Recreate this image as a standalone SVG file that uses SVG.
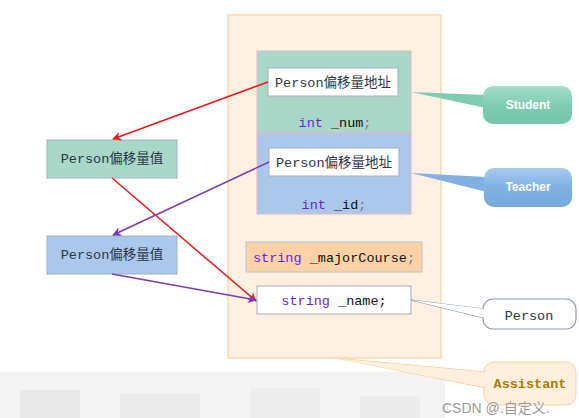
<svg xmlns="http://www.w3.org/2000/svg" width="579" height="418" viewBox="0 0 579 418">
<style>
.mono{font-family:"Liberation Mono","Noto Sans CJK SC",monospace;font-size:13.5px;fill:#2A3646}
.kw{fill:#6A1FE6}
.blk{fill:#111}
.semi{fill:#8A6A9A}
.call{font-family:"Liberation Sans","Noto Sans",sans-serif;font-size:12px;font-weight:bold;fill:#fff}
.wb{fill:#fff;stroke:#A2B0C2;stroke-width:1}
</style>
<defs>
<marker id="ar" viewBox="0 0 10 10" refX="9" refY="5" markerWidth="9" markerHeight="9" orient="auto-start-reverse" markerUnits="userSpaceOnUse"><path d="M0,0 L10,5 L0,10 L3,5 Z" fill="#F01818"/></marker>
<marker id="ap" viewBox="0 0 10 10" refX="9" refY="5" markerWidth="9" markerHeight="9" orient="auto-start-reverse" markerUnits="userSpaceOnUse"><path d="M0,0 L10,5 L0,10 L3,5 Z" fill="#7A3AB0"/></marker>
<linearGradient id="gs" x1="0" y1="0" x2="0" y2="1"><stop offset="0" stop-color="#A6DEC9"/><stop offset="0.5" stop-color="#7ECDB3"/><stop offset="1" stop-color="#74C5AB"/></linearGradient>
<linearGradient id="gt" x1="0" y1="0" x2="0" y2="1"><stop offset="0" stop-color="#A8CBEE"/><stop offset="0.5" stop-color="#80B1E2"/><stop offset="1" stop-color="#75A8DC"/></linearGradient>
</defs>
<rect width="579" height="418" fill="#fff"/>
<g opacity="0.45">
<rect x="0" y="372" width="445" height="46" fill="#E6E6E6"/>
<rect x="20" y="390" width="60" height="28" fill="#CDCDCD"/>
<rect x="120" y="394" width="80" height="24" fill="#D2D2D2"/>
<rect x="250" y="388" width="70" height="30" fill="#D8D8D8"/>
<rect x="360" y="396" width="60" height="22" fill="#D4D4D4"/>
</g>
<g id="assistant-container">
<rect x="228" y="15" width="213" height="343" fill="#FFF0E2" stroke="#FDD7AE" stroke-width="1.5"/>
</g>
<g id="student-block">
<rect x="257" y="51" width="154" height="82" fill="#A9D8C8" stroke="#E6B5C5"/>
<rect x="268" y="68" width="130" height="28" class="wb"/>
<text x="333" y="87" class="mono" text-anchor="middle">Person偏移量地址</text>
<text x="335" y="127" class="mono" text-anchor="middle"><tspan class="kw">int</tspan><tspan class="blk"> _num</tspan><tspan class="semi">;</tspan></text>
</g>
<g id="teacher-block">
<rect x="257" y="133" width="154" height="81" fill="#ABC8EA" stroke="#E6B5C5"/>
<rect x="269" y="148" width="130" height="28" class="wb"/>
<text x="334" y="167" class="mono" text-anchor="middle">Person偏移量地址</text>
<text x="334" y="209" class="mono" text-anchor="middle"><tspan class="kw">int</tspan><tspan class="blk"> _id</tspan><tspan class="semi">;</tspan></text>
</g>
<g id="major-course">
<rect x="246" y="242" width="176" height="30" fill="#FFD1A6" stroke="#A6CAD6"/>
<text x="334" y="262" class="mono" text-anchor="middle"><tspan class="kw">string</tspan><tspan class="blk"> _majorCourse</tspan><tspan class="semi">;</tspan></text>
</g>
<g id="name-field">
<rect x="257" y="286" width="154" height="28" class="wb"/>
<text x="334" y="305" class="mono" text-anchor="middle"><tspan class="kw">string</tspan><tspan class="blk"> _name;</tspan></text>
</g>
<g id="offset-green">
<rect x="47" y="140" width="130" height="38" fill="#A9D8C8" stroke="#9DB2C6"/>
<text x="112" y="163" class="mono" text-anchor="middle">Person偏移量值</text>
</g>
<g id="offset-blue">
<rect x="47" y="236" width="130" height="38" fill="#ABC8EA" stroke="#9DB2C6"/>
<text x="112" y="259" class="mono" text-anchor="middle">Person偏移量值</text>
</g>
<g id="callout-student">
<path d="M411,92 L486,95 L486,108 Z" fill="#7ECDB3"/>
<rect x="483" y="86" width="89" height="38" rx="10" fill="url(#gs)"/>
<text x="528" y="109" class="call" text-anchor="middle">Student</text>
</g>
<g id="callout-teacher">
<path d="M411,173 L487,177 L487,192 Z" fill="#80B1E2"/>
<rect x="484" y="168" width="88" height="39" rx="10" fill="url(#gt)"/>
<text x="528" y="191" class="call" text-anchor="middle">Teacher</text>
</g>
<g id="callout-person">
<path d="M411,300 L484,309 M411,300 L484,318" fill="none" stroke="#8C9AB2" stroke-width="1.2"/>
<rect x="483" y="299" width="93" height="30" rx="10" fill="#fff" stroke="#8C9AB2" stroke-width="1.2"/>
<path d="M411,300 L485,309 L485,318 Z" fill="#fff"/>
<text x="529" y="320" class="mono" text-anchor="middle">Person</text>
</g>
<g id="callout-assistant">
<path d="M335,358 L486,372 L486,388 Z" fill="#FFF0DE" stroke="#FDD0A2"/>
<rect x="484" y="362" width="92" height="43" rx="10" fill="#FFF0DE" stroke="#FDD0A2"/>
<path d="M336,358.5 L487,372.5 L487,387.5 Z" fill="#FFF0DE"/>
<text x="530" y="388" class="mono" text-anchor="middle" style="fill:#B07800;font-weight:bold">Assistant</text>
</g>
<g id="connectors" fill="none" stroke-width="1.5">
<line x1="268" y1="82" x2="113" y2="139" stroke="#F01818" marker-end="url(#ar)"/>
<line x1="112" y1="178" x2="256" y2="301" stroke="#F01818" marker-end="url(#ar)"/>
<line x1="269" y1="162" x2="113" y2="235" stroke="#7A3AB0" marker-end="url(#ap)"/>
<line x1="112" y1="274" x2="256" y2="300" stroke="#7A3AB0" marker-end="url(#ap)"/>
</g>
<text x="442" y="413" style="font-family:'Liberation Sans','Noto Sans CJK SC',sans-serif;font-size:14px;fill:#9A9A9A">CSDN @.自定义.</text>
</svg>
